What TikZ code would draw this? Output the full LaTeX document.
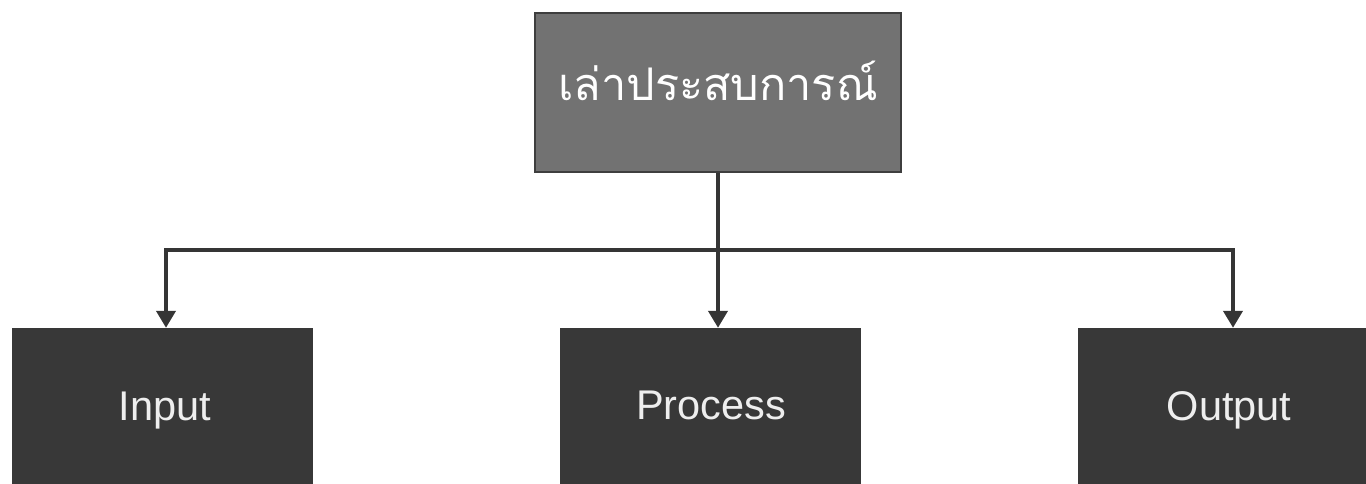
\documentclass[tikz,border=0pt]{standalone}
\usepackage{fontspec}
\setmainfont{Liberation Sans}
\newfontfamily\thaifont[Script=Thai]{Loma}
\usetikzlibrary{arrows.meta}
\definecolor{topfill}{HTML}{727272}
\definecolor{topline}{HTML}{3E3E3E}
\definecolor{boxfill}{HTML}{383838}
\definecolor{txt}{HTML}{EEEEEE}
\definecolor{conn}{HTML}{353535}
\begin{document}
\begin{tikzpicture}[x=1pt,y=-1pt,
  topbox/.style={draw=topline,line width=2pt,fill=topfill,minimum width=366pt,minimum height=159pt,inner sep=0pt},
  toplabel/.style={text=white,font=\thaifont\fontsize{45}{52}\selectfont,anchor=base,inner sep=0pt},
  botbox/.style={fill=boxfill,minimum width=301pt,minimum height=170pt,inner sep=0pt},
  botlabel/.style={text=txt,font=\fontsize{41.5}{48}\selectfont,anchor=base,inner sep=0pt},
  conn/.style={draw=conn,line width=4pt},
  arr/.style={conn,-{Triangle[length=17pt,width=19pt]}}]
\useasboundingbox (0,0) rectangle (1366,484);
\fill[white] (0,0) rectangle (1366,484);
\node[topbox] (top) at (718,92.5) {};
\node[toplabel] (toptxt) at (718,101) {เล่าประสบการณ์};
\node[botbox] (in) at (162.5,413) {};
\node[botbox] (pr) at (710,413) {};
\node[botbox,minimum width=288pt] (out) at (1222,413) {};
\node[botlabel] (intxt) at (165,420) {Input};
\node[botlabel] (prtxt) at (711,419) {Process};
\node[botlabel] (outtxt) at (1229,420) {Output};
\coordinate (bus) at (718,250);
\coordinate (busl) at (166,250);
\coordinate (busr) at (1233,250);
\draw[conn] (top.south) -- (bus);
\draw[conn,line cap=rect] (busl) -- (busr);
\draw[arr] (busl) -- (busl |- in.north);
\draw[arr] (bus) -- (bus |- pr.north);
\draw[arr] (busr) -- (busr |- out.north);
\end{tikzpicture}
\end{document}
